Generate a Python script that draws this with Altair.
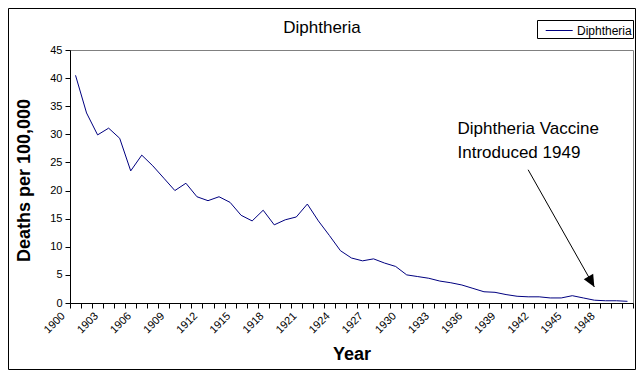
import altair as alt
import pandas as pd

# ---- data ----
years = list(range(1900, 1951))
deaths = [40.5, 33.8, 29.9, 31.1, 29.3, 23.5, 26.3, 24.4, 22.2, 20.0,
          21.3, 18.9, 18.2, 18.9, 17.9, 15.6, 14.6, 16.5, 13.9, 14.8,
          15.3, 17.6, 14.6, 12.0, 9.3, 8.0, 7.5, 7.85, 7.1, 6.5,
          5.0, 4.7, 4.4, 3.9, 3.6, 3.2, 2.6, 2.0, 1.9, 1.5,
          1.2, 1.1, 1.1, 0.9, 0.9, 1.3, 0.9, 0.5, 0.4, 0.4, 0.3]
series_name = "Diphtheria"
chart_title = "Diphtheria"
label_years = list(range(1900, 1949, 3))
y_ticks = list(range(0, 46, 5))

ann_text = ["Diphtheria Vaccine", "Introduced 1949"]
ann_x = [1934.6, 1934.6]
ann_y = [31.0, 26.6]
arrow_from = (1941.0, 23.7)
arrow_to = (1947.0, 2.85)

FONT = "Liberation Sans"

df = pd.DataFrame({"year": years, "deaths": deaths, "series": series_name})
ann_df = pd.DataFrame({"x": ann_x, "y": ann_y, "t": ann_text})
arrow_df = pd.DataFrame({"x": [arrow_from[0]], "y": [arrow_from[1]],
                         "x2": [arrow_to[0]], "y2": [arrow_to[1]]})

tick_vals = [1899.5 + k for k in range(len(years) + 1)]
label_arr = "[" + ",".join(str(y) for y in label_years) + "]"

xscale = alt.Scale(domain=[1899.5, 1950.5], nice=False, zero=False)
yscale = alt.Scale(domain=[0, 45], nice=False)

xaxis = alt.Axis(values=tick_vals, grid=False, tickSize=5, tickColor="black",
                 domainColor="black", labelAngle=-45, labelAlign="right",
                 labelBaseline="middle", labelOffset=-7, labelPadding=6,
                 labelOverlap=False, labelFlush=False, labelBound=False,
                 labelExpr=f"indexof({label_arr}, datum.value + 0.5) >= 0 ? toString(datum.value + 0.5) : ''",
                 labelFont=FONT, labelFontSize=11, labelColor="black",
                 title="Year", titleFont=FONT, titleFontSize=18, titleFontWeight="bold",
                 titleColor="black", titleY=51, titleBaseline="middle")
yaxis = alt.Axis(values=y_ticks, grid=False, tickSize=5, tickColor="black",
                 domainColor="black", labelPadding=3, labelFont=FONT,
                 labelFontSize=11, labelColor="black",
                 title="Deaths per 100,000", titleFont=FONT, titleFontSize=18,
                 titleFontWeight="bold", titleColor="black", titleX=-46, titleY=130,
                 titleAngle=270, titleAlign="center", titleBaseline="middle")

X = lambda f: alt.X(f, scale=xscale, axis=xaxis)
Y = lambda f: alt.Y(f, scale=yscale, axis=yaxis)

line = alt.Chart(df).mark_line(strokeWidth=1).encode(
    x=X("year:Q"),
    y=Y("deaths:Q"),
    color=alt.Color("series:N", scale=alt.Scale(range=["#000080"]),
                    legend=alt.Legend(title=None, orient="none", legendX=467, legendY=-30,
                                      strokeColor="black", fillColor="white", padding=1,
                                      symbolType="M-0.2,0H2.8", symbolSize=324,
                                      symbolStrokeWidth=1, symbolStrokeColor="#000080",
                                      symbolFillColor="transparent",
                                      labelOffset=20, labelFont=FONT, labelFontSize=12,
                                      labelColor="black")),
)

arrow = alt.Chart(arrow_df).mark_rule(color="black", strokeWidth=1).encode(
    x=X("x:Q"), y=Y("y:Q"), x2="x2:Q", y2="y2:Q",
)

head = alt.Chart(arrow_df).mark_point(
    shape="M0,0L-0.45,-1L0.45,-1Z", filled=True, size=576, angle=330.6,
    color="black", opacity=1,
).encode(x=X("x2:Q"), y=Y("y2:Q"))

text = alt.Chart(ann_df).mark_text(
    align="left", baseline="middle", font=FONT, fontSize=17, color="black"
).encode(x=X("x:Q"), y=Y("y:Q"), text="t:N")

title = alt.Chart(alt.Data(values=[{"t": chart_title}])).mark_text(
    align="center", baseline="middle", font=FONT, fontSize=17, color="black"
).encode(x=alt.value(252), y=alt.value(-22), text="t:N")

border = alt.Chart(alt.Data(values=[{}])).mark_rect(
    fill=None, stroke="black", strokeWidth=1
).encode(
    x=alt.value(-61.5), x2=alt.value(565.5), y=alt.value(-41.5), y2=alt.value(319.5)
)

chart = alt.layer(line, arrow, head, text, title, border).properties(
    width=563, height=253,
    autosize=alt.AutoSizeParams(type="none"),
    padding={"left": 62, "top": 42, "right": 3, "bottom": 67},
    background="white",
).configure_view(stroke="#808080", strokeWidth=1)

chart.save("out.html", embed_options={"renderer": "svg", "actions": False})
